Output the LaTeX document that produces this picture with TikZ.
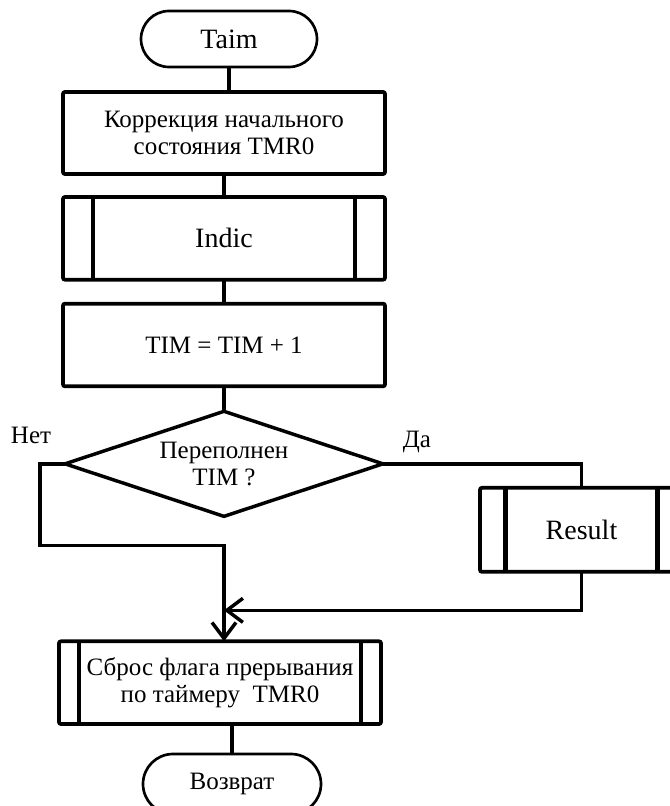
\documentclass[tikz,border=0pt]{standalone}
\usepackage{fontspec}
\setmainfont{Liberation Serif}
\usetikzlibrary{shapes.geometric,arrows.meta,positioning}

\begin{document}
\begin{tikzpicture}[
    every node/.style={font=\fontsize{18.75pt}{20.5pt}\selectfont, outer sep=0pt},
    big/.style={font=\fontsize{21pt}{24pt}\selectfont},
    term/.style={draw, rectangle, rounded corners=21pt, minimum width=132pt, minimum height=42pt, line width=2pt},
    block/.style={draw, rectangle, rounded corners=1.5pt, minimum width=241.5pt, minimum height=62pt, line width=2.8pt, align=center},
    subproc/.style={block, path picture={
        \draw[line width=3.4pt] ([xshift=#1]path picture bounding box.north west) -- ([xshift=#1]path picture bounding box.south west);
        \draw[line width=3.4pt] ([xshift=-#1]path picture bounding box.north east) -- ([xshift=-#1]path picture bounding box.south east);}},
    decision/.style={draw, diamond, aspect=3, minimum width=238.5pt, minimum height=78.75pt, inner sep=0pt, line width=2.6pt, align=center},
    lbl/.style={inner sep=0pt},
    line/.style={line width=2.6pt},
    arrow/.style={line, -{Straight Barb[length=12pt, width=18pt, line width=2.6pt]}}
]
\useasboundingbox (0,0) rectangle (501.75pt,-604.5pt);

% Start
\node[term, big] (taim) at (171.75pt,-29.25pt) {Taim};

% Main chain
\node[block, below=18.75pt of taim, xshift=-3.75pt, minimum height=61.5pt] (korr) {Коррекция начального\\состояния TMR0};
\node[subproc=22.5pt, big, below=17.25pt of korr] (indic) {Indic};
\node[block, below=18pt of indic] (tim) {TIM = TIM + 1};
\node[decision, below=18.75pt of tim] (ovf) {Переполнен\\TIM ?};

% Branches
\node[subproc=19pt, big, anchor=west, minimum width=152.25pt, minimum height=63pt] (result) at ([xshift=72.75pt, yshift=-49.5pt]ovf.east) {Result};
\node[subproc=15pt, below=93.75pt of ovf, xshift=-3pt] (sbros) {Сброс флага прерывания\\по таймеру~ TMR0};
\node[term, below=22.5pt of sbros, xshift=9pt, minimum width=133.5pt, minimum height=45pt, rounded corners=22.5pt] (vozv) {Возврат};

% Labels
\node[lbl] (no) at ([xshift=-25.5pt, yshift=21pt]ovf.west) {Нет};
\node[lbl] (yes) at ([xshift=25.5pt, yshift=16.5pt]ovf.east) {Да};

% Helper points
\coordinate[left=18.75pt of ovf.west] (nleft);
\coordinate[below=21.75pt of ovf.south] (join);
\coordinate[below=48.75pt of join] (back);

% Arrows
\draw[line] (taim) -- (taim |- korr.north);
\draw[line] (korr) -- (indic);
\draw[line] (indic) -- (tim);
\draw[line] (tim) -- (ovf);

\draw[arrow] (ovf.west) -- (nleft) |- (join) -- (join |- sbros.north);
\draw[line] (ovf.east) -| (result.north);
\draw[arrow] (result.south) |- (back);
\draw[line] (vozv.north |- sbros.south) -- (vozv.north);
\end{tikzpicture}
\end{document}
